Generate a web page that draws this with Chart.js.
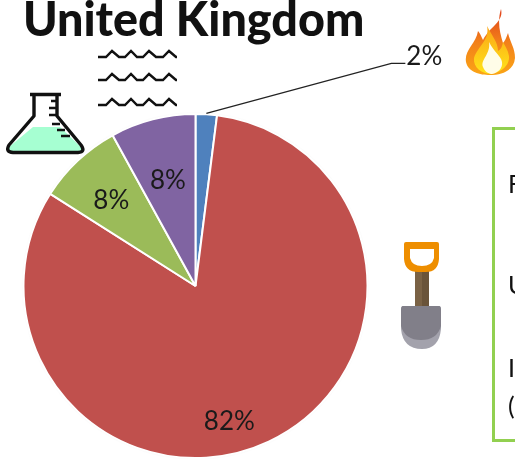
<!DOCTYPE html>
<html><head><meta charset="utf-8">
<script src="https://cdn.jsdelivr.net/npm/chart.js@4"></script>
<style>
html,body{margin:0;padding:0;background:#fff;overflow:hidden}
#wrap{position:relative;width:515px;height:459px;overflow:hidden}
canvas{position:absolute;left:0;top:0}
svg{position:absolute;left:0;top:0}
.t{position:absolute;font-family:Lato,sans-serif;color:#111;white-space:nowrap}
#box{position:absolute;left:492px;top:127px;width:60px;height:309px;border:3px solid #92D050}
</style></head><body>
<div id="wrap">
<canvas id="c" width="515" height="459"></canvas>
<svg width="515" height="459" viewBox="0 0 515 459">
  <defs>
    <linearGradient id="f1" x1="0" y1="0" x2="0" y2="1"><stop offset="0" stop-color="#e0401c"/><stop offset=".5" stop-color="#f2801a"/><stop offset="1" stop-color="#fba516"/></linearGradient>
    <linearGradient id="f2" x1="0" y1="0" x2="0" y2="1"><stop offset="0" stop-color="#fba516"/><stop offset="1" stop-color="#ffe41a"/></linearGradient>
  </defs>
  <g fill="none" stroke="#111" stroke-width="2.4">
    <path d="M98 57h8l6-6 7 6h6l6-6 6 6h6l6-6 7 6h7l6-6 7 6h1"/>
    <path d="M98 80h8l6-6 7 6h6l6-6 6 6h6l6-6 7 6h7l6-6 7 6h1"/>
    <path d="M98 105h8l6-6 7 6h6l6-6 6 6h6l6-6 7 6h7l6-6 7 6h1"/>
  </g>
  <path d="M33 127H60L82 148Q85 152 79 153H13Q6 152 9 147Z" fill="#A6FFD2"/>
  <g fill="none" stroke="#111" stroke-width="3.4" stroke-linejoin="round">
    <path d="M30 94.500H61M34 95V116L9 145Q5 152 13 152.500H78Q86 152 81 145L57 116V95"/>
    <path d="M57 101h-6M57 108h-8M57 115h-8M60 124h-8M65 130h-8M70 136h-9" stroke-width="2.6"/>
  </g>
  <path d="M501 9C504 22 490 26 483 40C481 36 480 33 478 31C476 44 464 50 466 62C468 72 480 75 490 75C503 75 514 70 515 58C515 48 510 42 508 33C506 38 505 41 503 43C500 33 497 22 501 9Z" fill="url(#f1)"/>
  <path d="M487 26C490 40 478 46 474 58C473 68 482 73 490 74C500 73 510 66 509 56C508 50 505 46 503 42C502 48 500 50 498 51C498 42 492 36 487 26Z" fill="url(#f2)"/>
  <path d="M489 42C491 54 480 60 483 67C485 72 489 74 492 74C498 73 503 68 502 62C501 56 494 52 489 42Z" fill="#fffde8"/>
  <rect x="415" y="270" width="14" height="38" fill="#7a6245"/>
  <rect x="422" y="270" width="7" height="38" fill="#6a543a"/>
  <path d="M406 242H437Q439 242 439 244V259Q438 272 426 272H418Q405 272 404 259V244Q404 242 406 242ZM410 249V258Q412 266 422 266Q432 266 434 258V249Z" fill="#EE8E00" fill-rule="evenodd"/>
  <path d="M403 306H439Q441 306 441 310V329Q439 349 422 349Q403 349 401 329V310Q401 306 403 306Z" fill="#A3A2AC"/>
  <path d="M403 306H439Q441 306 441 310V326Q437 340 421 340Q405 340 401 326V310Q401 306 403 306Z" fill="#817F89"/>
</svg>
<div class="t" style="left:23px;top:-10px;font-size:46.7px;font-weight:900" id="ttl"></div>
<div id="box"></div>
<div class="t" id="b0" style="left:508px;top:168px;font-size:25px"></div>
<div class="t" id="b1" style="left:508px;top:269px;font-size:25px"></div>
<div class="t" id="b2" style="left:508px;top:352px;font-size:25px"></div>
<div class="t" id="b3" style="left:508px;top:390px;font-size:25px"></div>
</div>
<script>
const titleText = "United Kingdom";
const categories = ["Blue", "Red", "Green", "Purple"];
const shares = [2, 82, 8, 8];
const colours = ["#4F81BD", "#C0504D", "#9BBB59", "#8064A2"];
const boxLetters = ["F", "U", "I", "("];

document.getElementById('ttl').textContent = titleText;
boxLetters.forEach((s, i) => document.getElementById('b' + i).textContent = s);

const labelFractions = [null, 0.79, 0.63, 0.62];
const labelNudges = [[0, 0], [-24, 13], [-10, -6], [-1, -2]];
const labels = {
  id: 'labels',
  beforeDatasetDraw(chart) {
    const ctx = chart.ctx;
    ctx.save();
    ctx.shadowColor = 'rgba(0,0,0,0.3)';
    ctx.shadowBlur = 3;
    ctx.beginPath();
    const a = chart.getDatasetMeta(0).data[0];
    ctx.arc(a.x, a.y, a.outerRadius - 1, 0, Math.PI * 2);
    ctx.fillStyle = '#fff';
    ctx.fill();
    ctx.restore();
  },
  afterDatasetDraw(chart) {
    const ctx = chart.ctx;
    const meta = chart.getDatasetMeta(0);
    ctx.save();
    ctx.font = '26px Lato, sans-serif';
    ctx.fillStyle = '#1a1a1a';
    ctx.textAlign = 'center';
    ctx.textBaseline = 'middle';
    meta.data.forEach((arc, i) => {
      const mid = (arc.startAngle + arc.endAngle) / 2;
      const text = shares[i] + '%';
      if (labelFractions[i] !== null) {
        const r = arc.outerRadius * labelFractions[i];
        ctx.fillText(text, arc.x + Math.cos(mid) * r + labelNudges[i][0], arc.y + Math.sin(mid) * r + labelNudges[i][1]);
      } else {
        const r0 = arc.outerRadius + 1;
        const x0 = arc.x + Math.cos(mid) * r0, y0 = arc.y + Math.sin(mid) * r0;
        const kneeX = x0 + 185, kneeY = y0 - 50;
        ctx.strokeStyle = '#222';
        ctx.lineWidth = 1.2;
        ctx.beginPath();
        ctx.moveTo(x0, y0);
        ctx.lineTo(kneeX, kneeY);
        ctx.lineTo(kneeX + 14, kneeY);
        ctx.stroke();
        ctx.textAlign = 'left';
        ctx.fillText(text, kneeX + 15, kneeY - 7);
        ctx.textAlign = 'center';
      }
    });
    ctx.restore();
  }
};

new Chart(document.getElementById('c'), {
  type: 'pie',
  data: {
    labels: categories,
    datasets: [{
      data: shares,
      backgroundColor: colours,
      borderColor: '#ffffff',
      borderWidth: 2
    }]
  },
  options: {
    responsive: false,
    animation: false,
    layout: { padding: { top: 113, left: 21, right: 145, bottom: -2 } },
    plugins: { legend: { display: false }, title: { display: false }, tooltip: { enabled: false } }
  },
  plugins: [labels]
});
</script>
</body></html>
